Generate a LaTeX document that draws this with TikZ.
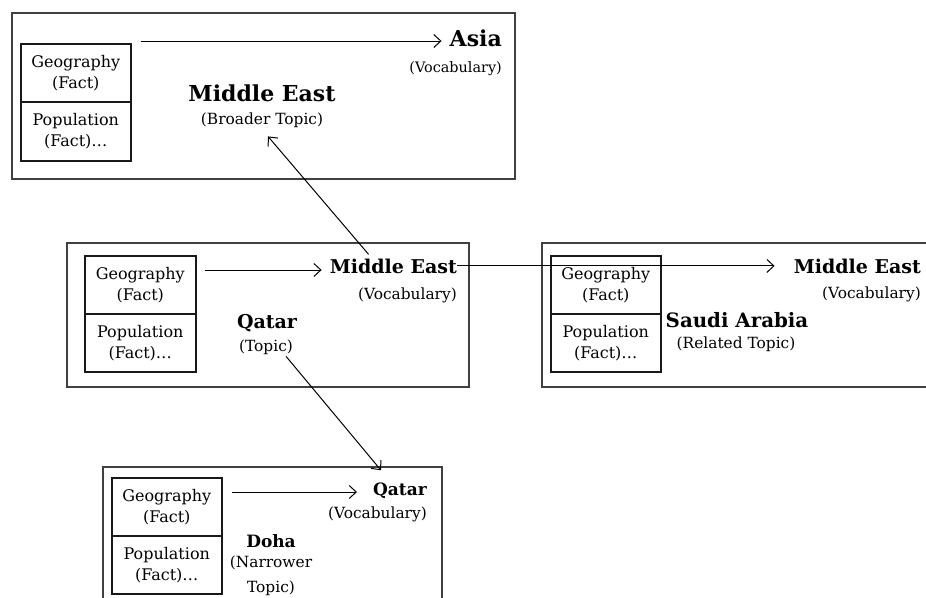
\documentclass[tikz,border=0pt]{standalone}
\usepackage{fontspec}
\setmainfont{DejaVu Serif}
\usetikzlibrary{arrows.meta}
\begin{document}
\begin{tikzpicture}[x=1pt,y=-1pt,
  outer/.style={draw=black!75, line width=1.6pt, inner sep=0pt, anchor=north west},
  fact/.style={draw=black!90, line width=1.5pt, inner sep=0pt, anchor=north west, align=center,
    font=\fontsize{16}{21}\selectfont},
  conn/.style={line width=1pt, -{Straight Barb[length=7pt,width=13pt,line width=1pt]}},
  lbl/.style={inner sep=0pt},
  bigt/.style={lbl, font=\bfseries\fontsize{22}{28}\selectfont},
  medt/.style={lbl, font=\bfseries\fontsize{19}{25}\selectfont},
  smallt/.style={lbl, font=\bfseries\fontsize{17}{23}\selectfont},
  smlt/.style={lbl, font=\fontsize{15.4}{25}\selectfont},
  smlone/.style={lbl, font=\fontsize{14.4}{20}\selectfont}]
\useasboundingbox (0,0) rectangle (926,597);
\fill[white] (0,0) rectangle (926,597);
\clip (0,0) rectangle (926,597);

% ---- Box 1: Middle East (Broader Topic)
\node[outer, minimum width=503pt, minimum height=166pt] (b1) at (11,12) {};
\node[fact, minimum width=110pt, minimum height=58pt] (geo1) at (20,43) {Geography\\(Fact)};
\node[fact, minimum width=110pt, minimum height=59pt] (pop1) at (20,101) {Population\\(Fact)\ldots};
\node[bigt, anchor=base east] (asia) at (502,46) {Asia};
\node[smlone, anchor=base east] (voc1) at (502,72) {(Vocabulary)};
\node[bigt, anchor=base] (me1) at (262,101) {Middle East};
\node[smlt, anchor=base] (bt1) at (262,124) {(Broader Topic)};
\draw[conn, shorten >=8pt] ([xshift=9pt,yshift=2pt]geo1.north east) coordinate (s1) -- (s1 -| asia.west);

% ---- Box 2: Qatar (Topic)
\node[outer, minimum width=402pt, minimum height=144pt] (b2) at (66,242) {};
\node[fact, minimum width=111pt, minimum height=58pt] (geo2) at (84,255) {Geography\\(Fact)};
\node[fact, minimum width=111pt, minimum height=58pt] (pop2) at (84,313) {Population\\(Fact)\ldots};
\node[medt, anchor=base east] (me2) at (457,273) {Middle East};
\node[smlt, anchor=base east] (voc2) at (457,299) {(Vocabulary)};
\node[medt, anchor=base] (qatar2) at (267,328) {Qatar};
\node[smlt, anchor=base] (topic2) at (266,351) {(Topic)};
\draw[conn, shorten >=8pt] ([xshift=8pt,yshift=-15pt]geo2.north east) coordinate (s2) -- (s2 -| me2.west);

% ---- Box 3: Saudi Arabia (Related Topic)
\node[outer, minimum width=400pt, minimum height=144pt] (b3) at (541,242) {};
\node[fact, minimum width=110pt, minimum height=58pt] (geo3) at (550,255) {Geography\\(Fact)};
\node[fact, minimum width=110pt, minimum height=58pt] (pop3) at (550,313) {Population\\(Fact)\ldots};
\node[medt, anchor=base east] (me3) at (921,273) {Middle East};
\node[smlt, anchor=base east] (voc3) at (921,298) {(Vocabulary)};
\node[medt, anchor=base, font=\bfseries\fontsize{19.8}{25}\selectfont] (sa3) at (737,327) {Saudi Arabia};
\node[smlt, anchor=base] (rt3) at (736,348) {(Related Topic)};
\draw[conn, shorten >=19pt] (me2.east) -- (me2.east -| me3.west);

% ---- Box 4: Doha (Narrower Topic)
\node[outer, minimum width=339pt, minimum height=150pt] (b4) at (102,466) {};
\node[fact, minimum width=110pt, minimum height=58pt] (geo4) at (111,477) {Geography\\(Fact)};
\node[fact, minimum width=110pt, minimum height=58pt] (pop4) at (111,535) {Population\\(Fact)\ldots};
\node[smallt, anchor=base east] (q4) at (427,495) {Qatar};
\node[smlt, anchor=base east] (voc4) at (427,518) {(Vocabulary)};
\node[smallt, anchor=base] (doha) at (271,547) {Doha};
\node[smlt, align=center, anchor=center] (nt4) at (271,576) {(Narrower\\Topic)};
\draw[conn, shorten >=16pt] ([xshift=9pt,yshift=-15pt]geo4.north east) coordinate (s4) -- (s4 -| q4.west);

% ---- Cross-box connectors
\draw[conn] ([xshift=39pt,yshift=4pt]me2.north west) -- ([xshift=6pt,yshift=-9pt]bt1.south);
\draw[conn] ([xshift=-7pt,yshift=-2pt]topic2.south east) -- ([xshift=8pt,yshift=12pt]q4.north west);
\end{tikzpicture}
\end{document}
